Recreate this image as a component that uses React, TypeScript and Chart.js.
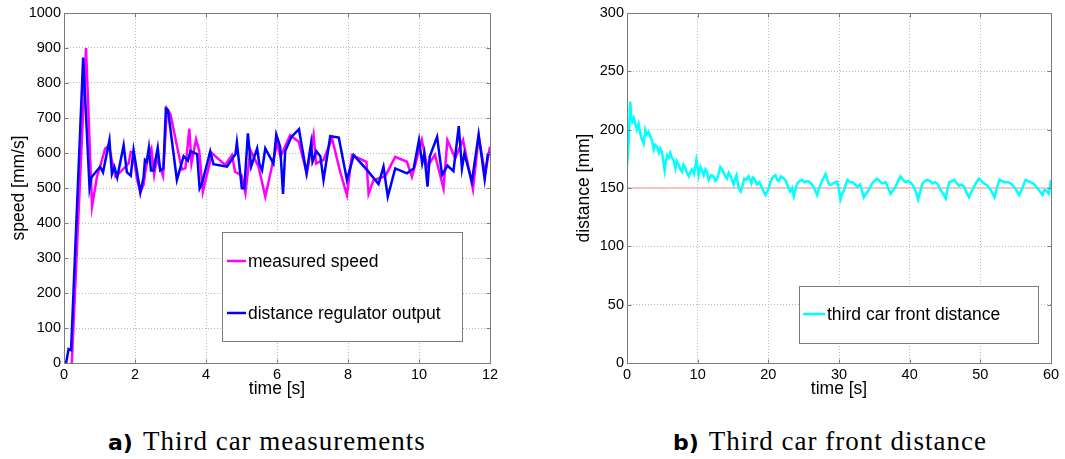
import React, { useEffect, useRef } from "react";
import { Chart, registerables } from "chart.js";

Chart.register(...registerables);

// ---------- data: chart a) Third car measurements ----------
const measuredTime = [
  0.22, 0.62, 0.79, 0.93, 1.07, 1.16, 1.26, 1.45, 1.59, 1.82, 1.88, 1.95, 2.06, 2.15, 2.24, 2.29, 2.38, 2.46, 2.54,
  2.62, 2.79, 2.9, 3.0, 3.32, 3.42, 3.53, 3.59, 3.72, 3.81, 3.91, 4.17, 4.54, 4.73, 4.82, 5.0, 5.11, 5.25, 5.48,
  5.67, 6.0, 6.1, 6.37, 6.61, 6.84, 7.03, 7.1, 7.31, 7.55, 7.78, 7.97, 8.11, 8.52, 8.58, 8.72, 9.05, 9.33, 9.66,
  9.8, 10.08, 10.23, 10.45, 10.69, 10.8, 11.02, 11.24, 11.52, 11.68, 11.86, 12.0,
];
const measuredSpeed = [
  0, 900, 447, 533, 580, 613, 620, 533, 546, 570, 603, 600, 523, 490, 508, 546, 594, 613, 538,
  585, 534, 727, 710, 553, 556, 670, 570, 639, 606, 489, 599, 566, 594, 546, 537, 485, 608, 561,
  475, 627, 590, 651, 632, 542, 651, 570, 580, 642, 546, 480, 594, 575, 483, 523, 534, 589, 575,
  532, 637, 561, 595, 499, 637, 585, 637, 496, 646, 542, 618,
];

const regulatorTime = [
  0.06, 0.13, 0.2, 0.54, 0.72, 0.77, 0.93, 1.02, 1.1, 1.28, 1.35, 1.42, 1.5, 1.68, 1.77, 1.88, 1.96, 2.15, 2.24,
  2.28, 2.33, 2.39, 2.45, 2.52, 2.64, 2.71, 2.8, 2.87, 2.93, 3.18, 3.37, 3.49, 3.56, 3.75, 3.82, 3.89, 4.12, 4.21,
  4.59, 4.83, 4.87, 5.01, 5.08, 5.18, 5.27, 5.44, 5.5, 5.58, 5.67, 5.9, 5.98, 6.09, 6.17, 6.23, 6.4, 6.62, 6.67,
  6.83, 6.96, 7.0, 7.11, 7.22, 7.31, 7.5, 7.74, 7.97, 8.16, 8.54, 8.86, 9.0, 9.12, 9.33, 9.66, 9.85, 10.0, 10.09,
  10.15, 10.24, 10.3, 10.51, 10.65, 10.8, 10.97, 11.12, 11.21, 11.28, 11.49, 11.68, 11.85, 11.94, 12.0,
];
const regulatorOutput = [
  0, 40, 37, 873, 500, 530, 550, 560, 545, 637, 540, 560, 530, 622, 545, 535, 608, 487, 530,
  580, 575, 615, 550, 550, 615, 550, 555, 727, 722, 523, 591, 578, 605, 597, 499, 514, 605, 568,
  561, 597, 630, 499, 499, 656, 561, 613, 570, 551, 613, 570, 653, 618, 483, 605, 645, 668, 637,
  542, 628, 575, 605, 591, 523, 648, 644, 523, 594, 551, 511, 561, 475, 556, 542, 556, 637, 570,
  599, 504, 589, 646, 537, 564, 548, 677, 556, 599, 518, 653, 525, 597, 599,
];

const speedXTicks = [0, 2, 4, 6, 8, 10, 12];
const speedYTicks = [0, 100, 200, 300, 400, 500, 600, 700, 800, 900, 1000];

// ---------- data: chart b) Third car front distance ----------
const distanceTime = [
  0.0, 0.2, 0.45, 0.6, 0.75, 0.95, 1.18, 1.4, 1.65, 1.88, 2.1, 2.36, 2.59, 2.8, 3.06, 3.3, 3.54, 3.78, 4.0, 4.25,
  4.5, 4.7, 4.96, 5.15, 5.33, 5.5, 5.67, 5.9, 6.13, 6.35, 6.6, 6.84, 7.05, 7.31, 7.55, 7.79, 8.0, 8.26, 8.5, 8.73,
  9.0, 9.2, 9.5, 9.82, 10.0, 10.14, 10.4, 10.6, 10.85, 11.1, 11.3, 11.56, 11.9, 12.27, 12.5, 12.7, 13.0, 13.2,
  13.45, 13.7, 13.9, 14.16, 14.4, 14.6, 14.85, 15.1, 15.3, 15.5, 15.8, 16.1, 16.35, 16.6, 16.9, 17.2, 17.4, 17.6,
  17.8, 18.0, 18.2, 18.4, 18.75, 19.1, 19.35, 19.6, 19.85, 20.06, 20.3, 20.5, 20.75, 21.0, 21.25, 21.5, 21.8,
  22.2, 22.4, 22.6, 22.85, 23.1, 23.35, 23.6, 23.85, 24.1, 24.45, 24.8, 25.1, 25.5, 25.85, 26.2, 26.55, 26.9,
  27.15, 27.4, 27.75, 28.1, 28.35, 28.6, 28.8, 29.2, 29.74, 30.0, 30.2, 30.45, 30.7, 30.95, 31.2, 31.55, 31.9,
  32.25, 32.6, 33.0, 33.5, 33.85, 34.2, 34.7, 35.05, 35.4, 35.75, 36.1, 36.6, 36.95, 37.3, 37.65, 38.0, 38.35,
  38.7, 39.05, 39.4, 39.75, 40.1, 40.6, 40.9, 41.2, 41.5, 41.8, 42.15, 42.5, 42.85, 43.2, 43.55, 43.9, 44.4,
  44.75, 45.1, 45.35, 45.6, 46.0, 46.3, 46.65, 47.0, 47.35, 47.7, 48.05, 48.4, 48.75, 49.1, 49.45, 49.8, 50.15,
  50.5, 51.0, 51.5, 52.0, 52.35, 52.7, 53.05, 53.4, 53.85, 54.3, 54.9, 55.5, 55.95, 56.4, 56.75, 57.1, 57.5,
  57.9, 58.3, 58.8, 59.05, 59.3, 59.7, 60.0,
];
const frontDistance = [
  168, 185, 224, 212, 207, 210, 205, 200, 205, 197, 192, 188, 200, 196, 198, 194, 191, 183, 187, 185,
  180, 184, 181, 172, 165, 173, 178, 176, 180, 176, 174, 167, 173, 170, 166, 164, 170, 167, 163, 160,
  164, 166, 162, 174, 168, 161, 168, 165, 161, 166, 164, 157, 161, 160, 156, 157, 163, 168,
  166, 163, 160, 158, 163, 161, 157, 153, 158, 161, 150, 147, 152, 158, 157, 160, 157, 154,
  159, 158, 156, 153, 155, 150, 147, 144, 147, 150, 155, 158, 160, 161, 157, 156, 160,
  158, 157, 154, 150, 147, 150, 143, 149, 154, 156, 157, 155, 156, 155, 153, 149, 144,
  149, 153, 158, 162, 157, 153, 152.6, 154, 155.5, 148, 140, 145, 148, 153, 157, 155, 155,
  153, 151, 153, 142, 145, 148, 154, 156, 158, 156, 154, 155, 150, 145, 148, 151, 156,
  160, 157, 155, 156, 155, 151, 146, 140, 147, 154, 156, 157, 156, 154, 155, 154, 148,
  145, 141, 149, 155, 156, 157, 154, 152, 153, 151, 146, 142, 147, 151, 155, 158, 156,
  154, 152, 148, 142, 150, 157, 156, 155, 155, 154, 150, 144, 150, 157, 156, 155, 154,
  151, 148, 144, 148, 148, 145, 157,
];
const referenceTime = [0, 60];
const referenceDistance = [150, 150];

const distXTicks = [0, 10, 20, 30, 40, 50, 60];
const distYTicks = [0, 50, 100, 150, 200, 250, 300];

// ---------- styling ----------
const SANS = "'Liberation Sans', Arial, Helvetica, sans-serif";
const TICK_FONT = { family: SANS, size: 14.5 };
const TITLE_FONT = { family: SANS, size: 17.5 };
const GRID_COLOR = "#b8b8b8";
const FRAME_COLOR = "#7c7c7c";

const toPoints = (xs: number[], ys: number[]) => xs.map((x, i) => ({ x, y: ys[i] }));

const framePlugin = {
  id: "matlabFrame",
  afterDatasetsDraw(chart: any) {
    const { ctx, chartArea: a, scales } = chart;
    const L = Math.round(a.left) + 0.5;
    const R = Math.round(a.right) + 0.5;
    const T = Math.round(a.top) + 0.5;
    const B = Math.round(a.bottom) + 0.5;
    ctx.save();
    ctx.strokeStyle = FRAME_COLOR;
    ctx.lineWidth = 1;
    ctx.setLineDash([]);
    ctx.strokeRect(L, T, R - L, B - T);
    const tl = 4;
    ctx.beginPath();
    scales.x.ticks.forEach((t: any) => {
      const px = Math.round(scales.x.getPixelForValue(t.value)) + 0.5;
      ctx.moveTo(px, B);
      ctx.lineTo(px, B - tl);
      ctx.moveTo(px, T);
      ctx.lineTo(px, T + tl);
    });
    scales.y.ticks.forEach((t: any) => {
      const py = Math.round(scales.y.getPixelForValue(t.value)) + 0.5;
      ctx.moveTo(L, py);
      ctx.lineTo(L + tl, py);
      ctx.moveTo(R, py);
      ctx.lineTo(R - tl, py);
    });
    ctx.stroke();
    ctx.restore();
  },
};

const boxLegendPlugin = {
  id: "boxLegend",
  afterDraw(chart: any) {
    const o = chart.options.plugins.boxLegend;
    if (!o) return;
    const { ctx } = chart;
    ctx.save();
    ctx.fillStyle = "#ffffff";
    ctx.fillRect(o.x, o.y, o.w, o.h);
    ctx.strokeStyle = FRAME_COLOR;
    ctx.lineWidth = 1;
    ctx.strokeRect(o.x + 0.5, o.y + 0.5, o.w, o.h);
    ctx.font = `${TITLE_FONT.size}px ${SANS}`;
    ctx.textBaseline = "middle";
    ctx.textAlign = "left";
    o.items.forEach((it: any) => {
      const ds = chart.data.datasets[it.dataset];
      ctx.strokeStyle = ds.borderColor;
      ctx.lineWidth = ds.borderWidth;
      ctx.beginPath();
      ctx.moveTo(o.lineX0, it.y);
      ctx.lineTo(o.lineX1, it.y);
      ctx.stroke();
      ctx.fillStyle = "#000000";
      ctx.fillText(ds.label, o.textX, it.y + 1);
    });
    ctx.restore();
  },
};

function axes(xTicks: number[], yTicks: number[], xTitle: string, yTitle: string, yWidth: number) {
  const common = {
    type: "linear",
    grid: { color: GRID_COLOR, lineWidth: 1, drawTicks: false },
    border: { display: false, dash: [1, 2] },
  };
  const plain = (v: any) => String(v);
  return {
    x: {
      ...common,
      min: xTicks[0],
      max: xTicks[xTicks.length - 1],
      afterBuildTicks: (s: any) => {
        s.ticks = xTicks.map((v) => ({ value: v }));
      },
      afterFit: (s: any) => {
        s.height = 37;
      },
      ticks: { font: TICK_FONT, color: "#000", padding: 3, maxRotation: 0, autoSkip: false, callback: plain },
      title: { display: true, text: xTitle, font: TITLE_FONT, color: "#000", padding: { top: 0, bottom: 0 } },
    },
    y: {
      ...common,
      min: yTicks[0],
      max: yTicks[yTicks.length - 1],
      afterBuildTicks: (s: any) => {
        s.ticks = yTicks.map((v) => ({ value: v }));
      },
      afterFit: (s: any) => {
        s.width = yWidth;
      },
      ticks: { font: TICK_FONT, color: "#000", padding: 3, autoSkip: false, callback: plain },
      title: { display: true, text: yTitle, font: TITLE_FONT, color: "#000", padding: { top: 9, bottom: 0 } },
    },
  };
}

function SpeedChart() {
  const ref = useRef<HTMLCanvasElement | null>(null);
  useEffect(() => {
    if (!ref.current) return;
    const chart = new Chart(ref.current, {
      type: "line",
      data: {
        datasets: [
          {
            label: "measured speed",
            data: toPoints(measuredTime, measuredSpeed),
            borderColor: "#ff00ff",
            borderWidth: 2.5,
            pointRadius: 0,
            tension: 0,
            order: 2,
          },
          {
            label: "distance regulator output",
            data: toPoints(regulatorTime, regulatorOutput),
            borderColor: "#0000ff",
            borderWidth: 2.5,
            pointRadius: 0,
            tension: 0,
            order: 1,
          },
        ],
      } as any,
      options: {
        responsive: false,
        animation: false,
        devicePixelRatio: 1,
        layout: { padding: { left: 0, top: 13, right: 50, bottom: 0 } },
        scales: axes(speedXTicks, speedYTicks, "time [s]", "speed [mm/s]", 64) as any,
        plugins: {
          legend: { display: false },
          tooltip: { enabled: false },
          boxLegend: {
            x: 222,
            y: 232,
            w: 240,
            h: 109,
            lineX0: 227,
            lineX1: 246,
            textX: 248,
            items: [
              { dataset: 0, y: 261 },
              { dataset: 1, y: 313 },
            ],
          },
        } as any,
      },
      plugins: [framePlugin, boxLegendPlugin],
    });
    return () => chart.destroy();
  }, []);
  return <canvas ref={ref} width={540} height={400} style={{ position: "absolute", left: 0, top: 0 }} />;
}

function DistanceChart() {
  const ref = useRef<HTMLCanvasElement | null>(null);
  useEffect(() => {
    if (!ref.current) return;
    const chart = new Chart(ref.current, {
      type: "line",
      data: {
        datasets: [
          {
            label: "third car front distance",
            data: toPoints(distanceTime, frontDistance),
            borderColor: "#00ffff",
            borderWidth: 2.5,
            pointRadius: 0,
            tension: 0,
            order: 1,
          },
          {
            label: "reference",
            data: toPoints(referenceTime, referenceDistance),
            borderColor: "#ffb0b0",
            borderWidth: 1.5,
            pointRadius: 0,
            tension: 0,
            order: 2,
          },
        ],
      } as any,
      options: {
        responsive: false,
        animation: false,
        devicePixelRatio: 1,
        layout: { padding: { left: 0, top: 13, right: 14, bottom: 0 } },
        scales: axes(distXTicks, distYTicks, "time [s]", "distance [mm]", 62) as any,
        plugins: {
          legend: { display: false },
          tooltip: { enabled: false },
          boxLegend: {
            x: 234,
            y: 286,
            w: 239,
            h: 57,
            lineX0: 238,
            lineX1: 260,
            textX: 262,
            items: [{ dataset: 0, y: 314 }],
          },
        } as any,
      },
      plugins: [framePlugin, boxLegendPlugin],
    });
    return () => chart.destroy();
  }, []);
  return <canvas ref={ref} width={500} height={400} style={{ position: "absolute", left: 565, top: 0 }} />;
}

function Caption({ left, tag, text }: { left: number; tag: string; text: string }) {
  return (
    <div style={{ position: "absolute", left, top: 426, whiteSpace: "nowrap", lineHeight: "30px", color: "#000" }}>
      <span style={{ fontFamily: "'DejaVu Sans', sans-serif", fontWeight: "bold", fontSize: 22 }}>{tag}</span>
      <span style={{ fontFamily: "'Liberation Serif', serif", fontSize: 27, letterSpacing: "1px", marginLeft: 10 }}>
        {text}
      </span>
    </div>
  );
}

export default function App() {
  return (
    <div style={{ position: "absolute", left: 0, top: 0, width: 1065, height: 459, background: "#fff", overflow: "hidden" }}>
      <SpeedChart />
      <DistanceChart />
      <Caption left={108} tag="a)" text="Third car measurements" />
      <Caption left={673} tag="b)" text="Third car front distance" />
    </div>
  );
}
